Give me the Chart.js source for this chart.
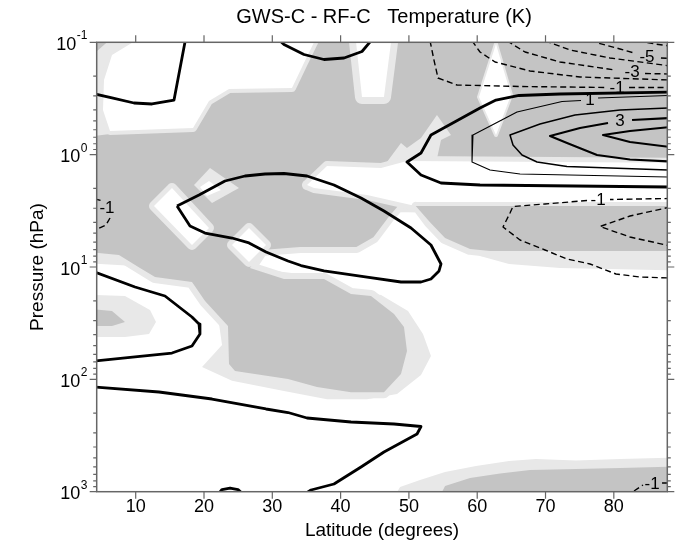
<!DOCTYPE html>
<html>
<head>
<meta charset="utf-8">
<title>GWS-C - RF-C Temperature (K)</title>
<script src="https://cdn.jsdelivr.net/npm/chart.js@4.4.1/dist/chart.umd.min.js"></script>
<style>
  html, body { margin: 0; padding: 0; background: #ffffff; }
  canvas { display: block; }
</style>
</head>
<body>
<canvas id="chart" width="691" height="552"></canvas>
<script>
// Latitude-pressure section of the temperature difference GWS-C minus RF-C (K).
// Every point is [latitude (deg), pressure (hPa)].

const latTicks = [10, 20, 30, 40, 50, 60, 70, 80];
const decadeExponents = [-1, 0, 1, 2, 3];

// ---- shaded areas -------------------------------------------------------
const darkMain = [[0,0.07],[92,0.07],[92,7.2],[61.9,7.2],[58.95,6.9],[55.29,5.52],[53.09,4.0],[51.33,2.89],[48.4,2.87],[47.0,3.6],[44.8,5.43],[42.3,6.64],[34.06,6.64],[28.49,7.06],[26.73,10.2],[31.71,12.8],[37.57,12.8],[41.52,17.4],[44.45,18.1],[47.82,26.2],[49.28,34.2],[49.72,56.0],[48.84,89.6],[46.35,130],[41.52,130],[36.54,117],[32.3,99.3],[24.54,84.3],[23.66,73.0],[23.51,33.5],[20.15,20.1],[18.24,13.6],[12.83,12.3],[10.63,10.2],[7.55,7.82],[0,7.06]];
const darkLobeEast = [[51.0,2.86],[92,2.86],[92,7.2],[61.9,7.2],[58.95,6.9],[55.29,5.52],[53.09,4.0]];
const lightLobe = [[26.73,10.2],[36.54,12.0],[40.5,15.7],[45.92,17.75],[49.87,24.6],[52.06,39.5],[53.23,62.0],[51.77,91.5],[48.26,135],[43.87,150],[38.01,150],[31.71,127],[24.1,103],[19.71,77.6],[22.64,49.5],[22.2,32.2],[19.71,18.5],[17.8,13.3],[12.39,12.8],[9.9,9.8],[0,9.03],[0,5.75],[26.73,5.75]];
const lightBlob = [[0,17.4],[8.43,18.1],[12.09,24.1],[12.97,30.9],[11.95,39.5],[8.43,42.0],[0,42.0]];
const darkBlob = [[0,22.7],[6.53,24.6],[8.43,30.9],[6.53,33.5],[0,33.5]];
const lightSurface = [[46.65,1500],[48.7,908],[51.63,787],[55.29,668],[59.82,590],[64.66,533],[68.61,512],[74.47,528],[80.91,512],[92,491],[92,1500]];
const darkSurface = [[53.38,1500],[55.29,890],[58.95,755],[63.34,689],[67.73,641],[74.47,628],[80.91,615],[92,590],[92,1500]];
const lightLobeEdge = [[60.41,7.98],[64.66,9.4],[72.12,10.2],[92,10.85],[92,6.37],[58.95,6.37]];
const lightCorner = [[5.8,0.1],[5.8,0.07],[10.63,0.07],[10.63,0.1],[6.53,0.1297],[5.36,0.2166],[5.21,0.4005],[6.24,0.655],[4.0,0.682],[4.0,0.1245]];
const lightSpike = [[46.35,1.262],[48.84,0.788],[49.72,0.872],[51.77,0.711],[54.11,0.4437],[56.16,0.6683],[54.7,0.7406],[53.97,1.187]];

const holeNorthwest = [[9.6,0.1],[9.6,0.07],[36.11,0.07],[36.11,0.1],[34.49,0.1592],[32.88,0.2551],[23.66,0.2604],[20.73,0.3331],[18.39,0.5791],[6.24,0.6161],[5.21,0.4005],[5.36,0.2166],[6.53,0.1297]];
const holeNotch = [[42.26,0.1],[42.26,0.07],[47.38,0.07],[47.38,0.1],[46.35,0.3068],[43.13,0.3068]];
const holeDiamond = [[62.75,0.1035],[64.95,0.2944],[62.75,0.6683],[60.26,0.3068]];
const holeTipLight = [[20.88,1.315],[25.12,1.981],[21.17,2.693],[18.54,1.863]];
const holeTipA = [[20.73,1.716],[22.49,2.063],[20.44,2.334],[19.41,1.941]];
const holeTipB = [[15.31,1.981],[20.73,4.497],[18.24,6.37],[12.68,2.865]];
const holeTipC = [[26.59,4.497],[29.08,6.37],[26.59,9.03],[24.1,6.37]];
const holeChannel = [[35.08,1.863],[38.01,1.262],[45.92,1.315],[49.72,1.139],[92,1.187],[92,2.806],[50.31,2.806],[43.87,2.286],[36.11,1.981]];

// ---- contours (null = gap left for a label) -----------------------------
const zeroNW = [[17.25,0.097],[15.61,0.3264],[12.39,0.3541],[9.75,0.3469],[6.53,0.3131],[4.0,0.2885]];
const zeroTop = [[31.13,0.097],[31.71,0.1046],[34.64,0.1284],[37.57,0.1423],[40.5,0.1379],[43.13,0.1207],[44.45,0.097]];
const zeroLoop = [[16.05,2.865],[17.95,4.317],[20.15,4.984],[24.1,5.521],[26.59,6.11],[29.08,7.355],[32.3,8.84],[34.2,9.7],[37.57,10.85],[43.87,12.28],[48.84,13.6],[51.77,13.6],[53.23,12.79],[54.41,10.85],[54.7,9.4],[53.23,6.37],[50.31,4.497],[46.35,3.175],[42.99,2.431],[39.03,1.863],[35.08,1.549],[31.71,1.472],[28.93,1.487],[26.0,1.549],[23.07,1.716],[19.27,2.286],[16.05,2.865]];
const zeroSW = [[4.0,11.08],[9.9,15.07],[14.29,18.12],[18.24,27.86],[19.27,32.2],[19.41,39.5],[18.24,50.5],[15.31,58.3],[9.9,63.2],[4.0,68.7]];
const zeroLow = [[4.0,117],[13.41,129.6],[21.17,149.6],[29.08,183.6],[32.3,197.3],[35.08,220.8],[41.52,239.7],[47.82,249.7],[51.77,262.8],[51.19,306.5],[46.35,443.3],[42.99,602.7],[39.03,854],[35.67,965.6],[34.93,1030]];
const zeroBump = [[22.2,1030],[22.64,956],[23.81,927],[24.98,956],[25.56,1030]];
const zeroNE = [[88.3,0.2769],[72.12,0.2885],[66.12,0.2974],[62.75,0.3264],[60.41,0.3844],[53.23,0.6683],[51.77,0.9667],[49.72,1.163],[51.77,1.517],[54.7,1.788],[60.41,1.863],[88.3,1.941]];
const plusOne = [[88.3,0.2974],[77.69,0.3131],null,[75.2,0.3296],[72.42,0.3364],[65.83,0.4173],[59.38,0.6683],[59.24,1.163],[61.87,1.369],[66.27,1.487],[88.3,1.581]];
const plusTwo = [[88.3,0.3844],[80.91,0.4005],[74.32,0.4437],[69.19,0.5336],[64.8,0.6683],[65.24,0.8206],[66.56,1.007],[68.76,1.163],[73.15,1.275],[88.3,1.369]];
const plusThree = [[88.3,0.4719],[82.67,0.4915],null,[79.15,0.5228],[75.05,0.5791],[70.66,0.6823],[73.15,0.788],[77.54,1.007],[82.37,1.105],[88.3,1.151]];
const plusFour = [[88.3,0.5674],[82.37,0.6161],[78.42,0.6683],[82.37,0.7717],[88.3,0.8548]];
const minusOneTop = [[53.09,0.097],[53.67,0.1438],[54.26,0.2078],[57.04,0.2399],[66.27,0.2474],[78.86,0.2525],null,[82.23,0.2525],[88.3,0.2525]];
const minusTwoTop = [[59.24,0.097],[60.41,0.122],[62.61,0.1497],[67.73,0.18],[75.05,0.2036],[88.3,0.2166]];
const minusThreeTop = [[64.36,0.097],[67.0,0.122],[72.12,0.1497],[80.18,0.1764],null,[84.57,0.1895],[88.3,0.1915]];
const minusFourTop = [[69.93,0.097],[73.59,0.1171],[79.44,0.1379],[88.3,0.1626]];
const minusFiveTop = [[76.51,0.097],[80.91,0.1147],[82.96,0.1245],null,[86.9,0.1379],[88.3,0.1393]];
const minusSixTop = [[83.54,0.097],[86.03,0.1035],[88.3,0.1079]];
const minusOneMid = [[88.3,2.457],[79.44,2.507],null,[76.08,2.559],[69.93,2.75],[65.24,2.894],[64.8,3.306],[63.78,4.406],[66.27,5.75],[69.93,7.06],[73.15,8.49],[76.51,9.4],[80.32,11.54],[83.84,12.28],[88.3,12.53]];
const minusTwoMid = [[88.3,2.924],[82.37,3.516],[77.98,4.36],[82.37,5.41],[88.3,6.5]];
const minusOneWest = [[4.0,2.482],[4.92,2.559],null,[6.24,3.664],[5.65,4.229],[4.0,4.685]];
const minusOneSurface = [[82.96,985],[84.27,871],null,[87.06,836],[88.3,836]];

const contourLevels = [0, 0, 0, 0, 0, 0, 0, 1, 2, 3, 4, -1, -2, -3, -4, -5, -6, -1, -2, -1, -1];
const contourPaths = [zeroNW, zeroTop, zeroLoop, zeroSW, zeroLow, zeroBump, zeroNE, plusOne, plusTwo, plusThree, plusFour,
  minusOneTop, minusTwoTop, minusThreeTop, minusFourTop, minusFiveTop, minusSixTop, minusOneMid, minusTwoMid, minusOneWest, minusOneSurface];

// contour labels
const labelLevels = [1, 3, -1, -3, -5, -1, -1, -1];
const labelLat = [76.51, 80.91, 80.47, 82.67, 84.86, 77.69, 5.8, 85.6];
const labelP = [0.3264, 0.507, 0.2551, 0.1857, 0.1351, 2.533, 2.985, 854];

// ---- dataset construction -----------------------------------------------
const LIGHT = '#e8e8e8', DARK = '#c4c4c4', WHITE = '#ffffff', CLEAR = 'rgba(0,0,0,0)';
const FONT = '"Liberation Sans", Arial, Helvetica, sans-serif';
const datasets = [];
let drawOrder = 1000;

const toPoints = arr => arr.map(([lat, p]) => ({ x: lat, y: p }));

function area(arr, color, halo) {
  datasets.push({
    data: toPoints(arr.concat([arr[0]])),
    indexAxis: 'y',
    fill: 'shape',
    backgroundColor: color,
    borderColor: halo ? color : CLEAR,
    borderWidth: halo || 0,
    borderJoinStyle: 'round',
    borderCapStyle: 'round',
    pointRadius: 0,
    tension: 0,
    clip: 0,
    order: drawOrder--
  });
}

function contour(arr, level) {
  const width = level === 0 ? 2.8 : level === 1 ? 1.1 : level === 2 ? 1.5 : level > 0 ? 2.1 : 1.4;
  const dash = level < 0 ? [6, 3.5] : [];
  let seg = [];
  const flush = () => {
    if (seg.length > 1) {
      datasets.push({
        data: toPoints(seg),
        fill: false,
        borderColor: '#000000',
        borderWidth: width,
        borderDash: dash,
        borderJoinStyle: 'round',
        borderCapStyle: 'butt',
        pointRadius: 0,
        tension: 0,
        clip: 0,
        order: drawOrder--
      });
    }
    seg = [];
  };
  arr.forEach(pt => { if (pt === null) flush(); else seg.push(pt); });
  flush();
}

// light shading under everything, then the dark shading, then clear holes
[lightLobe, lightBlob, lightSurface, lightLobeEdge].forEach(a => area(a, LIGHT));
area(darkMain, LIGHT, 12);
area(darkMain, DARK);
area(darkBlob, DARK);
area(darkSurface, DARK);
[lightCorner, lightSpike, holeTipLight].forEach(a => area(a, LIGHT));
area(holeNorthwest, LIGHT, 8);
area(holeNotch, LIGHT, 14);
area(holeDiamond, LIGHT, 4);
area(holeTipB, LIGHT, 10);
area(holeTipC, LIGHT, 10);
area(holeChannel, LIGHT, 10);
[holeNorthwest, holeNotch, holeDiamond, holeTipA, holeTipB, holeTipC, holeChannel].forEach(a => area(a, WHITE));
area(darkLobeEast, LIGHT, 8);
area(darkLobeEast, DARK);
contourPaths.forEach((path, i) => contour(path, contourLevels[i]));

// ---- frame, ticks and text ----------------------------------------------
const pressureTicks = [];
decadeExponents.slice(0, -1).forEach(e => {
  for (let m = 1; m <= 9; m++) pressureTicks.push({ v: m * Math.pow(10, e), major: m === 1 });
});
pressureTicks.push({ v: 1000, major: true });

const decorations = {
  id: 'decorations',
  afterDatasetsDraw(chart) {
    const { ctx, chartArea: a, scales } = chart;
    const xs = scales.x, ys = scales.y;
    ctx.save();

    // contour labels
    ctx.fillStyle = '#000000';
    ctx.textAlign = 'center';
    ctx.textBaseline = 'middle';
    ctx.font = '17px ' + FONT;
    labelLevels.forEach((lv, i) => {
      ctx.fillText(String(lv), xs.getPixelForValue(labelLat[i]), ys.getPixelForValue(labelP[i]));
    });

    // frame and ticks
    ctx.strokeStyle = '#666666';
    ctx.lineWidth = 1.5;
    ctx.strokeRect(a.left, a.top, a.right - a.left, a.bottom - a.top);
    ctx.lineWidth = 1.2;
    ctx.beginPath();
    latTicks.forEach(v => {
      const px = xs.getPixelForValue(v);
      ctx.moveTo(px, a.top); ctx.lineTo(px, a.top - 7);
      ctx.moveTo(px, a.bottom); ctx.lineTo(px, a.bottom + 7);
    });
    pressureTicks.forEach(t => {
      const py = ys.getPixelForValue(t.v);
      const len = t.major ? 7 : 3.5;
      ctx.moveTo(a.left, py); ctx.lineTo(a.left - len, py);
      ctx.moveTo(a.right, py); ctx.lineTo(a.right + len, py);
    });
    ctx.stroke();

    // latitude tick labels
    ctx.fillStyle = '#000000';
    ctx.font = '18px ' + FONT;
    ctx.textAlign = 'center';
    ctx.textBaseline = 'middle';
    latTicks.forEach(v => ctx.fillText(String(v), xs.getPixelForValue(v), 507));

    // pressure tick labels as powers of ten
    decadeExponents.forEach(e => {
      const py = ys.getPixelForValue(Math.pow(10, e));
      const es = String(e);
      ctx.textAlign = 'right';
      ctx.textBaseline = 'alphabetic';
      ctx.font = '12px ' + FONT;
      const ew = ctx.measureText(es).width;
      ctx.fillText(es, 87.5, py - 3);
      ctx.font = '18px ' + FONT;
      ctx.fillText('10', 87.5 - ew - 0.5, py + 7.5);
    });

    // titles
    ctx.textAlign = 'center';
    ctx.textBaseline = 'middle';
    ctx.font = '20px ' + FONT;
    ctx.fillText('GWS-C - RF-C   Temperature (K)', 384, 17);
    ctx.font = '19px ' + FONT;
    ctx.fillText('Latitude (degrees)', 382, 531);
    ctx.translate(38, 267);
    ctx.rotate(-Math.PI / 2);
    ctx.fillText('Pressure (hPa)', 0, 0);
    ctx.restore();
  }
};

new Chart(document.getElementById('chart'), {
  type: 'line',
  data: { datasets },
  options: {
    responsive: false,
    animation: false,
    devicePixelRatio: 1,
    events: [],
    layout: { padding: { left: 96.7, right: 23.7, top: 42.3, bottom: 60.3 } },
    plugins: { legend: { display: false }, tooltip: { enabled: false }, title: { display: false } },
    scales: {
      x: { type: 'linear', min: 4.29, max: 87.83, display: false },
      y: { type: 'logarithmic', min: 0.1, max: 1000, reverse: true, display: false }
    }
  },
  plugins: [decorations]
});
</script>
</body>
</html>
